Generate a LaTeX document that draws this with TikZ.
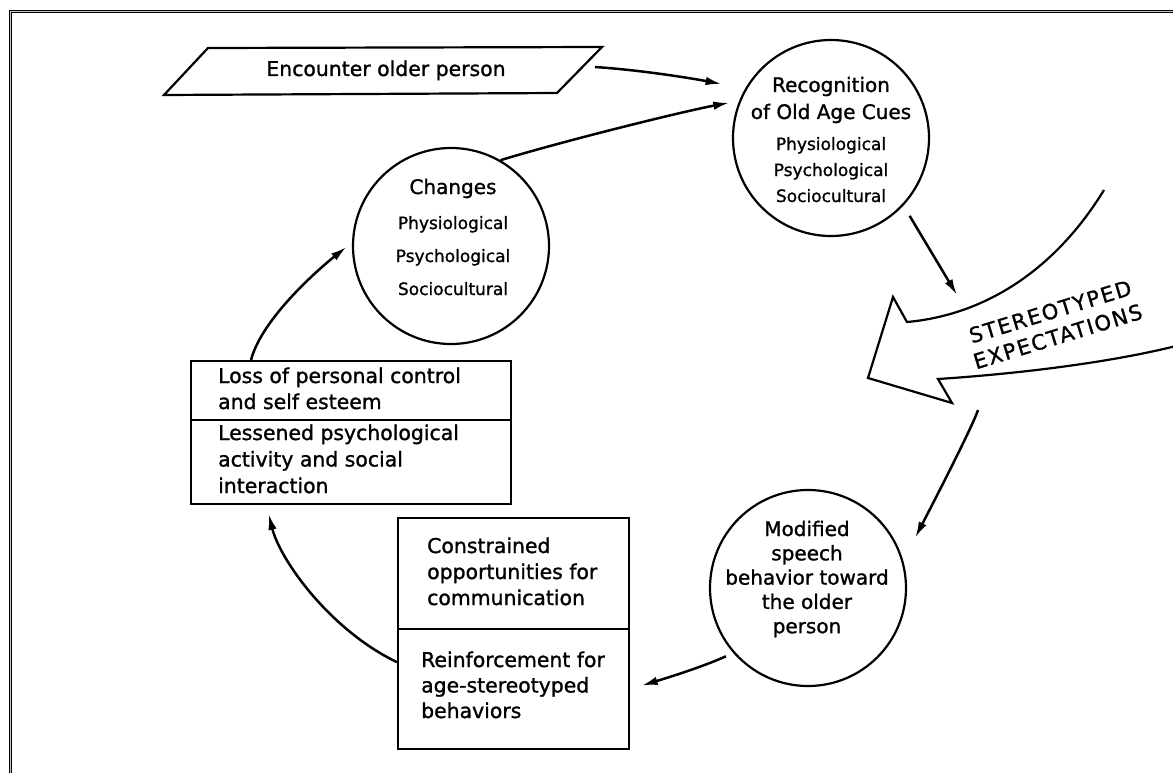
\documentclass[tikz,border=0pt]{standalone}
\usepackage{fontspec}
\setmainfont{DejaVu Sans}[FakeBold=1.2]
\newfontfamily\txtfont{DejaVu Sans}[FakeBold=1.2]
\newfontfamily\capfont{DejaVu Sans}[LetterSpace=8,FakeBold=1.2]
\usetikzlibrary{arrows.meta}
\begin{document}
\begin{tikzpicture}[x=1pt, y=-1pt,
  outline/.style={draw=black, line width=2.2pt},
  bubble/.style={outline, circle, minimum size=196pt, inner sep=0pt},
  panel/.style={outline, rectangle, inner sep=0pt, anchor=north west, minimum width=320pt},
  arr/.style={draw=black, line width=2.5pt, -{Latex[length=16pt,width=8.5pt]}},
  bigtxt/.style={font=\txtfont\fontsize{20}{24}\selectfont, inner sep=0pt, anchor=base},
  smalltxt/.style={font=\txtfont\fontsize{17}{20}\selectfont, inner sep=0pt, anchor=base},
  boxtxt/.style={font=\txtfont\fontsize{20.4}{24}\selectfont, inner sep=0pt, anchor=base west},
  captxt/.style={font=\capfont\fontsize{21}{26}\selectfont, inner sep=0pt, rotate=17, align=center},
  frameline/.style={line width=0.9pt, double=gray!45, double distance=1.6pt},
]
\useasboundingbox (0,0) rectangle (1173,773);
\fill[white] (0,0) rectangle (1173,773);
\draw[frameline] (10.5,790) -- (10.5,11.5) -- (1190,11.5);

% Encounter older person
\draw[outline, line join=miter] (164,95) -- (208,48) -- (602,47) -- (557,93) -- cycle;
\node[boxtxt, anchor=base] (enc) at (386,76) {Encounter older person};
\coordinate (encout) at (595,67);

% circles
\node[bubble] (rec) at (831,138) {};
\node[bubble] (ch) at (451,246) {};
\node[bubble] (mod) at (808,588) {};

\node[bigtxt] (recA) at (831,92) {Recognition};
\node[bigtxt] (recB) at (831,119) {of Old Age Cues};
\foreach \t [count=\i] in {Physiological,Psychological,Sociocultural}
  \node[smalltxt] (recC\i) at (831,{150+26*(\i-1)}) {\t};

\node[bigtxt] (chA) at (453,194) {Changes};
\foreach \t [count=\i] in {Physiological,Psychological,Sociocultural}
  \node[smalltxt] (chC\i) at (453,{229+33*(\i-1)}) {\t};

\foreach \t [count=\i] in {Modified,speech,behavior toward,the older,person}
  \node[bigtxt] (modT\i) at (807,{536+24.3*(\i-1)}) {\t};

% boxes
\node[panel, minimum height=59pt] (lossA) at (190,360) {};
\node[panel, minimum height=84pt] (lossB) at (190,419) {};
\node[panel, minimum width=231pt, minimum height=111pt] (con) at (397,517) {};
\node[panel, minimum width=231pt, minimum height=120pt] (reinf) at (397,628) {};

\foreach \t [count=\i] in {Loss of personal control,and self esteem}
  \node[boxtxt] (lossAt\i) at (218,{383+26*(\i-1)}) {\t};
\foreach \t [count=\i] in {Lessened psychological,activity and social,interaction}
  \node[boxtxt] (lossBt\i) at (218,{440+26.5*(\i-1)}) {\t};
\foreach \t [count=\i] in {Constrained,opportunities for,communication}
  \node[boxtxt] (cont\i) at (427,{553+26*(\i-1)}) {\t};
\foreach \t [count=\i] in {Reinforcement for,age-stereotyped,behaviors}
  \node[boxtxt] (reinft\i) at (421,{667+25.5*(\i-1)}) {\t};

% big curved arrow
\draw[outline, line join=miter] (1104,190) .. controls (1055,270) and (985,315) .. (907,322)
  -- (893,297) -- (868,378) -- (952,403) -- (938,379)
  .. controls (1000,375) and (1100,365) .. (1176,346);
\node[captxt] (st) at (1054,324) {STEREOTYPED\\EXPECTATIONS};
\coordinate (bigin) at (957,295);
\coordinate (bigout) at (978,410);

% connectors
\draw[arr, shorten >=24pt] (encout) .. controls (640,70) and (690,78) .. (rec.150);
\draw[arr, shorten >=10pt] (ch.60) .. controls (560,142) and (680,112) .. (rec.158);
\draw[arr, shorten <=12pt] (rec.-43) -- (bigin);
\draw[arr, shorten >=26pt] (bigout) .. controls (972,428) and (929,511) .. (mod.16);
\draw[arr, shorten <=8pt, shorten >=12pt] (mod.221) .. controls (700,668) and (660,680) .. (reinf.east);
\draw[arr, shorten >=9pt] (reinf.167) .. controls (330,630) and (280,560) .. (lossB.207);
\draw[arr, shorten >=7pt] (lossA.163) .. controls (262,318) and (320,268) .. (ch.178);
\end{tikzpicture}
\end{document}
